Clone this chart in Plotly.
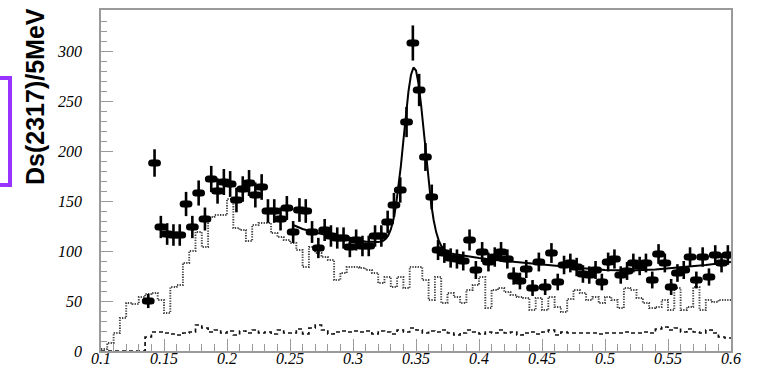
import numpy as np
import plotly.graph_objects as go

# ---------------- data ----------------
bin_width = 0.005
x_min, x_max = 0.1, 0.6

# data points (bins 0.1375 .. 0.5975)
data_first_center = 0.1375
data_counts = [50, 188, 124, 117, 116, 116, 147, 124, 158, 132,
               172, 160, 169, 167, 151, 162, 168, 156, 164, 140,
               140, 132, 143, 119, 141, 140, 119, 103, 121, 115,
               113, 113, 104, 111, 105, 105, 115, 115, 129, 146,
               161, 229, 308, 261, 194, 154, 101, 98, 93, 92,
               90, 111, 81, 99, 89, 94, 99, 92, 75, 70,
               82, 63, 89, 64, 98, 69, 86, 88, 84, 77,
               76, 81, 69, 89, 92, 76, 80, 88, 85, 88,
               71, 97, 88, 64, 78, 81, 94, 71, 94, 74,
               96, 88, 96]

# dotted histogram (100 bins, 0.1 .. 0.6)
dotted_hist = [2, 8, 18, 33, 48, 47, 54, 57, 58, 51,
               38, 64, 66, 88, 100, 119, 104, 134, 136, 136,
               152, 123, 121, 110, 126, 128, 128, 118, 114, 111,
               108, 101, 84, 104, 98, 94, 91, 71, 78, 84,
               84, 83, 81, 78, 68, 74, 64, 74, 63, 84,
               84, 71, 51, 74, 48, 58, 54, 48, 61, 66,
               74, 43, 61, 63, 59, 56, 54, 53, 41, 53,
               41, 54, 44, 39, 52, 61, 58, 51, 54, 48,
               54, 51, 43, 63, 61, 53, 48, 43, 44, 51,
               41, 63, 41, 44, 64, 41, 51, 49, 51, 51]

# dashed histogram (100 bins, 0.1 .. 0.6)
dashed_hist = [0, 0, 0, 0, 0, 0, 0, 14, 19, 19,
               18, 17, 16, 18, 19, 26, 23, 19, 21, 18,
               20, 16, 20, 18, 21, 18, 19, 17, 21, 18,
               18, 22, 17, 23, 26, 21, 17, 19, 20, 19,
               20, 19, 20, 17, 20, 19, 17, 21, 19, 23,
               21, 18, 20, 19, 21, 18, 16, 18, 21, 19,
               17, 19, 18, 21, 18, 19, 16, 18, 19, 17,
               19, 21, 16, 19, 18, 18, 18, 18, 18, 17,
               18, 18, 18, 19, 18, 18, 19, 18, 22, 24,
               21, 23, 19, 22, 19, 18, 21, 18, 14, 13]

# fit curve
fit_x = [0.2525, 0.26, 0.27, 0.28, 0.29, 0.30, 0.31, 0.32, 0.322, 0.324,
         0.326, 0.328, 0.330, 0.332, 0.334, 0.336, 0.338, 0.340, 0.342, 0.344,
         0.346, 0.348, 0.350, 0.352, 0.354, 0.356, 0.358, 0.360, 0.362, 0.364,
         0.366, 0.368, 0.370, 0.372, 0.374, 0.376, 0.378, 0.380, 0.39, 0.40,
         0.42, 0.44, 0.46, 0.48, 0.50, 0.52, 0.54, 0.56, 0.58, 0.60]
fit_y = [126, 122, 118.5, 115.5, 113, 111, 109.5, 108.9, 109.3, 110.2,
         112.1, 115.5, 121.5, 131.0, 144.5, 162.7, 185.1, 210.6, 236.4, 259.4,
         276.0, 283.5, 280.5, 267.4, 246.5, 220.8, 194.0, 169.0, 147.7, 131.0,
         118.9, 110.6, 105.3, 102.0, 100.2, 98.6, 97.6, 97.0, 95, 93,
         90, 87.5, 85, 83, 81, 80.5, 81.5, 83.5, 86, 89]

x_tickvals = [0.1, 0.15, 0.2, 0.25, 0.3, 0.35, 0.4, 0.45, 0.5, 0.55, 0.6]
x_ticktext = ["0.1", "0.15", "0.2", "0.25", "0.3", "0.35", "0.4", "0.45", "0.5", "0.55", "0.6"]
y_tickvals = [0, 50, 100, 150, 200, 250, 300]
y_ticktext = ["0", "50", "100", "150", "200", "250", "300"]
y_title = "Ds(2317)/5MeV"

# ---------------- derived ----------------
data_x = data_first_center + bin_width * np.arange(len(data_counts))
data_y = np.array(data_counts, dtype=float)
data_err = np.sqrt(data_y)
blob_offset = 0.0023  # half-width of the elongated marker

edges = x_min + bin_width * np.arange(len(dotted_hist) + 1)
dotted_y = list(dotted_hist) + [dotted_hist[-1]]
dashed_y = list(dashed_hist) + [dashed_hist[-1]]

fig = go.Figure()

fig.add_trace(go.Scatter(
    x=edges, y=dotted_y, mode="lines", line_shape="hv",
    line=dict(color="#444444", width=1.9, dash="1.3px,1.3px"),
    hoverinfo="skip", showlegend=False))

fig.add_trace(go.Scatter(
    x=edges, y=dashed_y, mode="lines", line_shape="hv",
    line=dict(color="#111111", width=1.7, dash="4px,3px"),
    hoverinfo="skip", showlegend=False))

fig.add_trace(go.Scatter(
    x=fit_x, y=fit_y, mode="lines",
    line=dict(color="black", width=2),
    hoverinfo="skip", showlegend=False))

for off in (-blob_offset, blob_offset):
    fig.add_trace(go.Scatter(
        x=data_x + off, y=data_y, mode="markers",
        marker=dict(symbol="circle", size=7, color="black", line=dict(width=0)),
        hoverinfo="skip", showlegend=False))

fig.add_trace(go.Scatter(
    x=data_x, y=data_y, mode="markers",
    marker=dict(symbol="circle", size=7.5, color="black", line=dict(width=0)),
    error_y=dict(type="data", array=data_err, visible=True,
                 color="black", thickness=2.6, width=0),
    showlegend=False))

# purple box partially outside left edge
L, R, T, B = 101, 731, 10, 351
W, H = R - L, B - T


def px_x(p):
    return (p - L) / W


def px_y(p):
    return (B - p) / H


fig.add_shape(type="rect", xref="paper", yref="paper",
              x0=px_x(-20), x1=px_x(10), y0=px_y(185), y1=px_y(78),
              line=dict(color="#9933ff", width=4), fillcolor="rgba(0,0,0,0)")

fig.add_annotation(text=y_title, xref="paper", yref="paper",
                   x=px_x(35), y=px_y(97), xanchor="center", yanchor="middle",
                   textangle=-90, showarrow=False,
                   font=dict(family="Liberation Sans Narrow, Liberation Sans, Arial", size=25,
                             color="black", weight="bold"))

tick_font = dict(family="Times New Roman, Liberation Serif, serif", size=16,
                 color="black", style="italic")

axis_common = dict(showline=True, mirror=True, linecolor="#9a9a9a", linewidth=1.5,
                   ticks="inside", tickcolor="#9a9a9a", tickwidth=1.3, ticklen=12,
                   showgrid=False, zeroline=False, automargin=False,
                   tickfont=tick_font)

fig.update_xaxes(range=[x_min, x_max], tickvals=x_tickvals,
                 ticktext=["<i>" + t + "</i>" for t in x_ticktext],
                 minor=dict(dtick=0.01, ticks="inside", ticklen=7,
                            tickcolor="#9a9a9a", tickwidth=1.2),
                 ticklabelstandoff=-8, **axis_common)
fig.update_yaxes(range=[0, 341], tickvals=y_tickvals,
                 ticktext=["<i>" + t + "</i>" for t in y_ticktext],
                 minor=dict(dtick=10, ticks="inside", ticklen=6,
                            tickcolor="#9a9a9a", tickwidth=1.2),
                 ticklabelstandoff=14, **axis_common)

fig.update_layout(width=767, height=366,
                  margin=dict(l=L, r=767 - R, t=T, b=366 - B, pad=0, autoexpand=False),
                  paper_bgcolor="white", plot_bgcolor="white",
                  font=dict(family="Times New Roman, Liberation Serif, serif"))

fig.write_html("out.html")
